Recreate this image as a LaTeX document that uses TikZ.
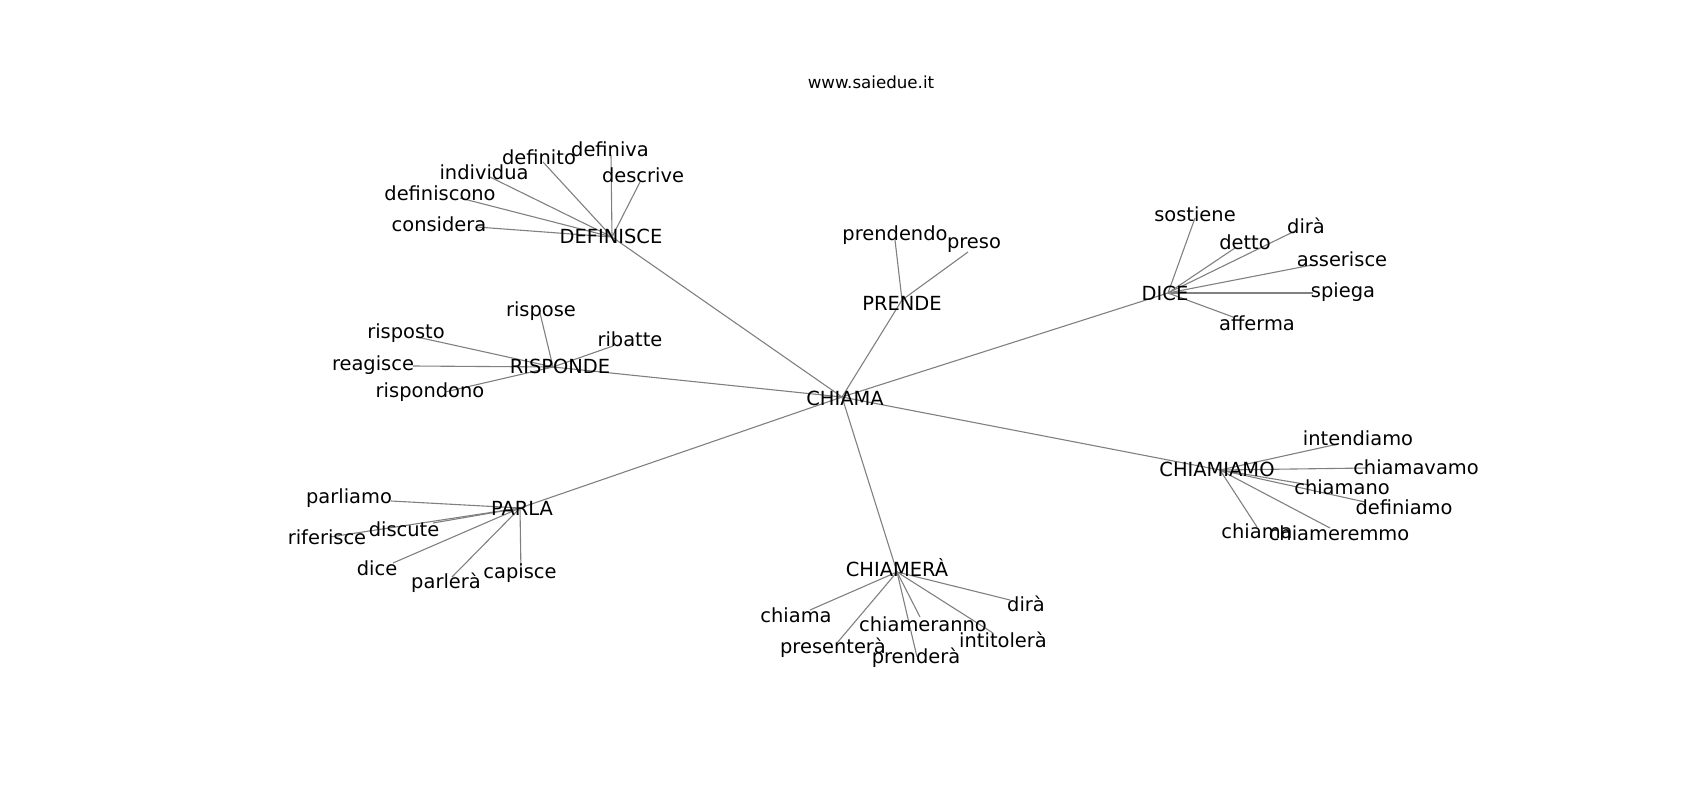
\documentclass[tikz,border=0pt]{standalone}
\usepackage{fontspec}
\setmainfont{DejaVu Sans}
\begin{document}
\begin{tikzpicture}[x=1pt,y=-1pt,
  edge/.style={draw=gray, line width=1.1pt},
  lbl/.style={inner sep=0pt, text=black, font=\fontsize{19.44}{23}\selectfont},
  ttl/.style={inner sep=0pt, text=black, font=\fontsize{16.67}{20}\selectfont}]
\useasboundingbox (0,0) rectangle (1700,800);
% ---------- node points ----------
\coordinate (c0) at (842,397);
\coordinate (h1) at (902,300);
\coordinate (h2) at (1168,293);
\coordinate (h3) at (612,237);
\coordinate (h4) at (553,367);
\coordinate (h5) at (1220,470);
\coordinate (h6) at (520,508);
\coordinate (h7) at (897,572);
% PRENDE leaves
\coordinate (p-prendendo) at (895,240);
\coordinate (p-preso) at (968,252);
% DICE leaves
\coordinate (d-sostiene) at (1195,218);
\coordinate (d-detto) at (1235,248);
\coordinate (d-dira) at (1297,230);
\coordinate (d-asserisce) at (1312,265);
\coordinate (d-spiega) at (1313,293);
\coordinate (d-afferma) at (1233,317);
% DEFINISCE leaves
\coordinate (f-definiva) at (611,155);
\coordinate (f-definito) at (543,162);
\coordinate (f-individua) at (490,177);
\coordinate (f-definiscono) at (460,198);
\coordinate (f-considera) at (477,227);
\coordinate (f-descrive) at (640,182);
% RISPONDE leaves
\coordinate (r-rispose) at (540,313);
\coordinate (r-risposto) at (417,337);
\coordinate (r-ribatte) at (613,346);
\coordinate (r-reagisce) at (413,366);
\coordinate (r-rispondono) at (445,392);
% CHIAMIAMO leaves
\coordinate (m-intendiamo) at (1338,444);
\coordinate (m-chiamavamo) at (1367,468);
\coordinate (m-chiamano) at (1310,485);
\coordinate (m-definiamo) at (1365,502);
\coordinate (m-chiama) at (1257,527);
\coordinate (m-chiameremmo) at (1330,528);
% PARLA leaves
\coordinate (a-parliamo) at (391,501);
\coordinate (a-riferisce) at (330,537);
\coordinate (a-discute) at (433,523);
\coordinate (a-dice) at (393,563);
\coordinate (a-parlera) at (452,577);
\coordinate (a-capisce) at (521,573);
% CHIAMERA leaves
\coordinate (e-chiama) at (810,610);
\coordinate (e-presentera) at (837,643);
\coordinate (e-prendera) at (917,657);
\coordinate (e-chiameranno) at (920,617);
\coordinate (e-intitolera) at (993,633);
\coordinate (e-dira) at (1010,600);
% ---------- edges ----------
\foreach \h in {h1,h2,h3,h4,h5,h6,h7} \draw[edge] (c0) -- (\h);
\foreach \l in {prendendo,preso} \draw[edge] (h1) -- (p-\l);
\foreach \l in {sostiene,detto,dira,asserisce,spiega,afferma} \draw[edge] (h2) -- (d-\l);
\foreach \l in {definiva,definito,individua,definiscono,considera,descrive} \draw[edge] (h3) -- (f-\l);
\foreach \l in {rispose,risposto,ribatte,reagisce,rispondono} \draw[edge] (h4) -- (r-\l);
\foreach \l in {intendiamo,chiamavamo,chiamano,definiamo,chiama,chiameremmo} \draw[edge] (h5) -- (m-\l);
\foreach \l in {parliamo,riferisce,discute,dice,parlera,capisce} \draw[edge] (h6) -- (a-\l);
\foreach \l in {chiama,presentera,prendera,chiameranno,intitolera,dira} \draw[edge] (h7) -- (e-\l);
% ---------- labels ----------
\node[ttl] (title) at (871,82) {www.saiedue.it};
\node[lbl] (lc0) at (845,398) {CHIAMA};
\node[lbl] (lh1) at (902,303) {PRENDE};
\node[lbl] (lh2) at (1165,293) {DICE};
\node[lbl] (lh3) at (611,236) {DEFINISCE};
\node[lbl] (lh4) at (560,366) {RISPONDE};
\node[lbl] (lh5) at (1217,469) {CHIAMIAMO};
\node[lbl] (lh6) at (522,508) {PARLA};
\node[lbl] (lh7) at (897,568) {CHIAMERÀ};
\node[lbl] (l-prendendo) at (895,235) {prendendo};
\node[lbl] (l-preso) at (974,245) {preso};
\node[lbl] (l-sostiene) at (1195,214) {sostiene};
\node[lbl] (l-detto) at (1245,242) {detto};
\node[lbl] (l-dira1) at (1306,226) {dirà};
\node[lbl] (l-asserisce) at (1342,259) {asserisce};
\node[lbl] (l-spiega) at (1343,292) {spiega};
\node[lbl] (l-afferma) at (1257,323) {afferma};
\node[lbl] (l-definiva) at (610,149) {definiva};
\node[lbl] (l-definito) at (539,157) {definito};
\node[lbl] (l-individua) at (484,172) {individua};
\node[lbl] (l-definiscono) at (440,193) {definiscono};
\node[lbl] (l-considera) at (439,224) {considera};
\node[lbl] (l-descrive) at (643,175) {descrive};
\node[lbl] (l-rispose) at (541,311) {rispose};
\node[lbl] (l-risposto) at (406,333) {risposto};
\node[lbl] (l-ribatte) at (630,339) {ribatte};
\node[lbl] (l-reagisce) at (373,365) {reagisce};
\node[lbl] (l-rispondono) at (430,392) {rispondono};
\node[lbl] (l-intendiamo) at (1358,438) {intendiamo};
\node[lbl] (l-chiamavamo) at (1416,467) {chiamavamo};
\node[lbl] (l-chiamano) at (1342,487) {chiamano};
\node[lbl] (l-definiamo) at (1404,507) {definiamo};
\node[lbl] (l-chiama1) at (1257,531) {chiama};
\node[lbl] (l-chiameremmo) at (1339,533) {chiameremmo};
\node[lbl] (l-parliamo) at (349,498) {parliamo};
\node[lbl] (l-riferisce) at (327,537) {riferisce};
\node[lbl] (l-discute) at (404,529) {discute};
\node[lbl] (l-dice) at (377,568) {dice};
\node[lbl] (l-parlera) at (446,583) {parlerà};
\node[lbl] (l-capisce) at (520,573) {capisce};
\node[lbl] (l-chiama2) at (796,615) {chiama};
\node[lbl] (l-presentera) at (833,648) {presenterà};
\node[lbl] (l-prendera) at (916,658) {prenderà};
\node[lbl] (l-chiameranno) at (923,624) {chiameranno};
\node[lbl] (l-intitolera) at (1003,640) {intitolerà};
\node[lbl] (l-dira2) at (1026,604) {dirà};
\end{tikzpicture}
\end{document}
